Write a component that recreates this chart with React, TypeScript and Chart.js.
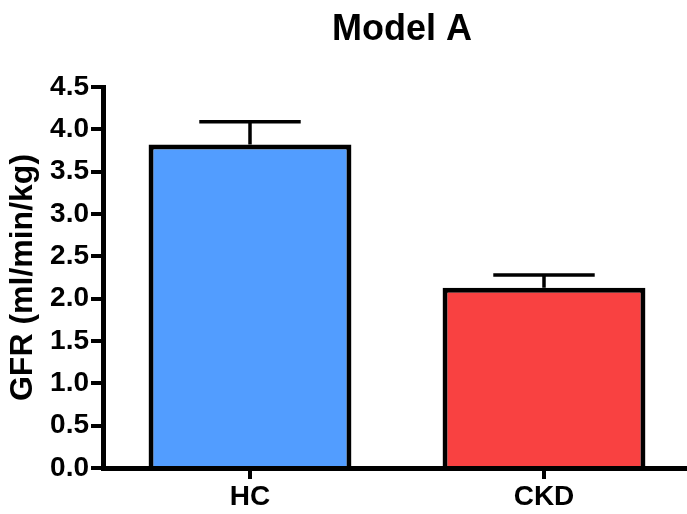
import React, { useEffect, useRef } from "react";
import { Chart, registerables } from "chart.js";

Chart.register(...registerables);

const categories = ["HC", "CKD"];
const meanValues = [3.82, 2.13];
const errorValues = [0.27, 0.15];
const barColors = ["#529dff", "#f94141"];
const yTicks = [0, 0.5, 1, 1.5, 2, 2.5, 3, 3.5, 4, 4.5];

const FONT = "'Liberation Sans', Arial, Helvetica, sans-serif";

const errorBarPlugin = {
  id: "errorBars",
  afterDatasetsDraw(chart: any) {
    const ctx = chart.ctx;
    const meta = chart.getDatasetMeta(0);
    const yScale = chart.scales.y;
    ctx.save();
    ctx.strokeStyle = "#000";
    ctx.lineWidth = 3.5;
    ctx.lineCap = "butt";
    meta.data.forEach((bar: any, i: number) => {
      const x = bar.x;
      const yTop = yScale.getPixelForValue(meanValues[i] + errorValues[i]);
      const yBase = yScale.getPixelForValue(meanValues[i]);
      const capHalf = bar.width * 0.25;
      ctx.beginPath();
      ctx.moveTo(x, yBase);
      ctx.lineTo(x, yTop);
      ctx.moveTo(x - capHalf, yTop);
      ctx.lineTo(x + capHalf, yTop);
      ctx.stroke();
    });
    ctx.restore();
  },
};

// Extend the category axis slightly past the canvas edge and nudge the title,
// matching the reference layout.
const layoutTweakPlugin = {
  id: "layoutTweak",
  afterLayout(chart: any) {
    const x = chart.scales.x;
    x.right = x.left + 588;
    x.width = x.right - x.left;
    x.configure();
    if (chart.titleBlock) {
      chart.titleBlock.left += 14;
    }
  },
};

export default function App() {
  const ref = useRef<HTMLCanvasElement>(null);
  useEffect(() => {
    if (!ref.current) return;
    const chart = new Chart(ref.current, {
      type: "bar",
      data: {
        labels: categories,
        datasets: [
          {
            data: meanValues,
            backgroundColor: barColors,
            borderColor: "#000",
            borderWidth: 5,
            barPercentage: 0.69,
            categoryPercentage: 1,
          },
        ],
      },
      plugins: [errorBarPlugin, layoutTweakPlugin],
      options: {
        responsive: false,
        animation: false,
        layout: { padding: 0 },
        plugins: {
          legend: { display: false },
          tooltip: { enabled: false },
          title: {
            display: true,
            text: "Model A",
            fullSize: false,
            color: "#000",
            font: { family: FONT, size: 36, weight: "bold" },
            padding: { top: 8, bottom: 35.8 },
          },
        },
        scales: {
          x: {
            grid: {
              offset: false,
              drawOnChartArea: false,
              drawTicks: true,
              tickLength: 11,
              lineWidth: 4,
              color: "#000",
            },
            border: { display: true, width: 5, color: "#000" },
            ticks: {
              color: "#000",
              font: { family: FONT, size: 28, weight: "bold" },
              padding: 1,
            },
            afterFit(scale: any) {
              scale.height = 46;
            },
          },
          y: {
            min: 0,
            max: 4.5,
            afterBuildTicks(scale: any) {
              scale.ticks = yTicks.map((v) => ({ value: v }));
            },
            grid: {
              drawOnChartArea: false,
              drawTicks: true,
              tickLength: 12,
              lineWidth: 4,
              color: "#000",
            },
            border: { display: true, width: 5, color: "#000" },
            ticks: {
              color: "#000",
              font: { family: FONT, size: 28, weight: "bold" },
              padding: 2,
              callback: (v: any) => Number(v).toFixed(1),
            },
            title: {
              display: true,
              text: "GFR (ml/min/kg)",
              color: "#000",
              font: { family: FONT, size: 32, weight: "bold" },
              padding: { top: 4, bottom: 0 },
            },
            afterFit(scale: any) {
              scale.width = 103;
            },
          },
        },
      },
    });
    return () => chart.destroy();
  }, []);
  return (
    <div style={{ position: "absolute", left: 0, top: 0, width: 687, height: 514, background: "#fff" }}>
      <canvas ref={ref} width={687} height={514} style={{ display: "block" }} />
    </div>
  );
}
